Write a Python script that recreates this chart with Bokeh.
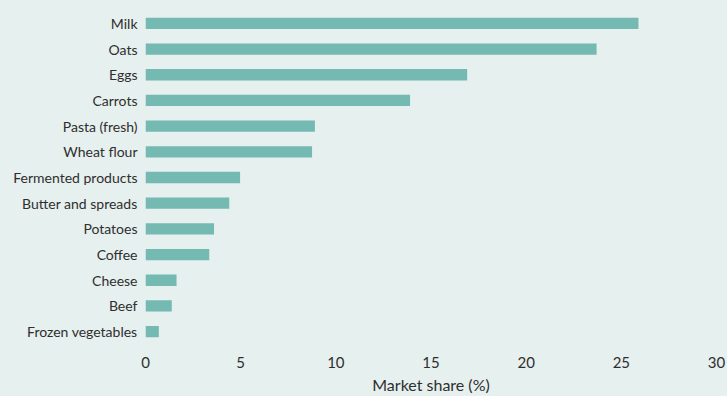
from bokeh.plotting import figure
from bokeh.models import FactorRange, Range1d, ColumnDataSource
from bokeh.embed import file_html
from bokeh.resources import INLINE

categories = ["Milk", "Oats", "Eggs", "Carrots", "Pasta (fresh)", "Wheat flour",
              "Fermented products", "Butter and spreads", "Potatoes", "Coffee",
              "Cheese", "Beef", "Frozen vegetables"]
shares = [25.9, 23.7, 16.9, 13.9, 8.9, 8.75, 4.97, 4.4, 3.6, 3.35, 1.63, 1.38, 0.7]
x_ticks = [0, 5, 10, 15, 20, 25, 30]

BG = "#E6F0EE"
BAR = "#74B9B2"
TXT = "#2E2E2E"

src = ColumnDataSource(data=dict(cat=categories, val=shares))

p = figure(width=727, height=396, output_backend="svg", toolbar_location=None,
           y_range=FactorRange(factors=list(reversed(categories)), range_padding=0),
           x_range=Range1d(0, 30),
           min_border_left=145, min_border_right=11, min_border_top=10, min_border_bottom=52)

p.hbar(y="cat", right="val", left=0, height=0.44, source=src,
       fill_color=BAR, line_color=None)

p.background_fill_color = BG
p.border_fill_color = BG
p.outline_line_color = None
p.xgrid.grid_line_color = None
p.ygrid.grid_line_color = None

for ax in (p.xaxis, p.yaxis):
    ax.axis_line_color = None
    ax.major_tick_line_color = None
    ax.minor_tick_line_color = None
    ax.major_tick_out = 0
    ax.major_tick_in = 0

p.yaxis.major_label_text_font = "Lato"
p.yaxis.major_label_text_font_size = "14px"
p.yaxis.major_label_text_color = TXT
p.yaxis.major_label_standoff = 8

p.xaxis.ticker = x_ticks
p.xaxis.major_label_text_font = "Lato"
p.xaxis.major_label_text_font_size = "15px"
p.xaxis.major_label_text_color = TXT
p.xaxis.major_label_standoff = 12
p.xaxis.axis_label = "Market share (%)"
p.xaxis.axis_label_text_font = "Lato"
p.xaxis.axis_label_text_font_style = "normal"
p.xaxis.axis_label_text_font_size = "16px"
p.xaxis.axis_label_text_color = TXT
p.xaxis.axis_label_standoff = 4

html = file_html(p, INLINE)
html = html.replace("<body>", '<body style="background-color:#E6F0EE">')
open("out.html", "w").write(html)
